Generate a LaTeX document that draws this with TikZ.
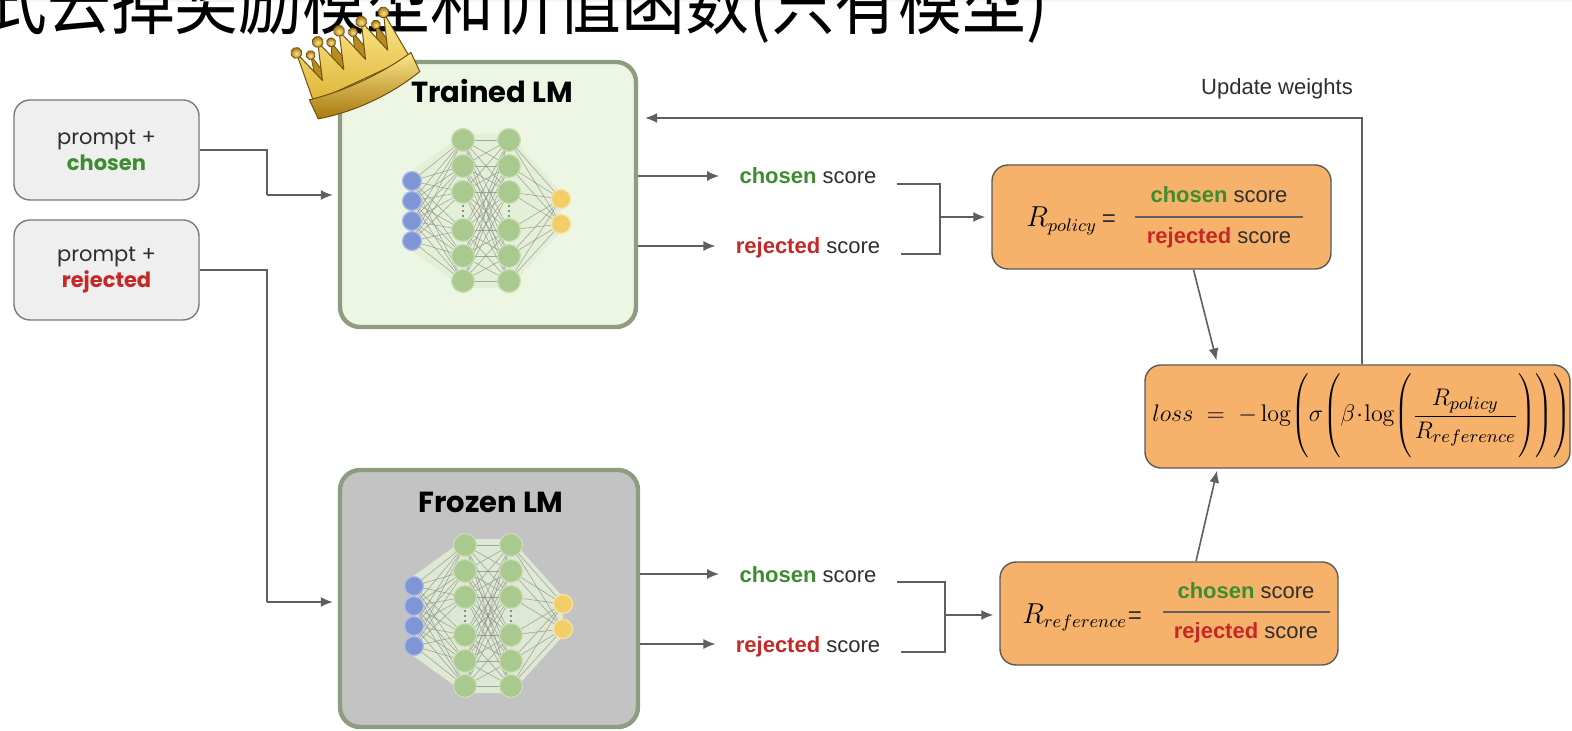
\documentclass[tikz,border=0pt]{standalone}
\usepackage[no-math]{fontspec}
\setmainfont{Liberation Sans}
\newfontfamily\gsans{Poppins}
\newfontfamily\cjk[FakeStretch=0.84]{Noto Sans CJK SC}
\usetikzlibrary{arrows.meta,calc}

\definecolor{linegray}{HTML}{5F5F5F}
\definecolor{txtgray}{HTML}{2E2E2E}
\definecolor{okgreen}{HTML}{3C8D2F}
\definecolor{badred}{HTML}{C62828}
\definecolor{promptfill}{HTML}{EFEFEF}
\definecolor{promptdraw}{HTML}{7A7A7A}
\definecolor{lmborder}{HTML}{8E9C82}
\definecolor{trainfill}{HTML}{EDF5E3}
\definecolor{frozenfill}{HTML}{C3C3C3}
\definecolor{orangefill}{HTML}{F6B26B}
\definecolor{orangedraw}{HTML}{5A5A5A}
\definecolor{netbgc}{HTML}{E3EFD7}
\definecolor{bluen}{HTML}{7F96D6}
\definecolor{bluer}{HTML}{AEBDE8}
\definecolor{greenn}{HTML}{A9C98E}
\definecolor{greenr}{HTML}{CADFB6}
\definecolor{yellown}{HTML}{F2CD68}
\definecolor{yellowr}{HTML}{F8E3A6}
\definecolor{edgec}{HTML}{8A8F86}
\definecolor{stripc}{HTML}{EEF7F9}
\definecolor{goldhi}{HTML}{FBE68A}
\definecolor{goldmid}{HTML}{E0B53A}
\definecolor{goldlo}{HTML}{A8780F}
\definecolor{goldback}{HTML}{B98A1E}
\definecolor{goldline}{HTML}{6E500A}

\tikzset{
  conn/.style={draw=linegray, line width=0.8pt},
  arr/.style={conn, -{Latex[length=6pt,width=5pt]}},
  promptbox/.style={draw=promptdraw, fill=promptfill, rounded corners=8pt, line width=0.7pt,
    minimum width=92.5pt, minimum height=50pt, align=center, text=txtgray,
    font=\gsans\fontsize{10.5}{13}\selectfont},
  lmbox/.style={draw=lmborder, line width=2.2pt, rounded corners=10pt},
  lmtitle/.style={anchor=base, font=\gsans\bfseries\fontsize{14.5}{16}\selectfont, text=black},
  score/.style={anchor=base, inner xsep=10pt, inner ysep=0pt, text=txtgray, font=\fontsize{11}{13}\selectfont},
  orangebox/.style={draw=orangedraw, fill=orangefill, rounded corners=8pt, line width=0.7pt},
  fracpart/.style={text=txtgray, font=\fontsize{11}{13}\selectfont},
  netedge/.style={draw=edgec, line width=0.3pt, opacity=0.75},
  bluenode/.style={fill=bluen, draw=bluer, line width=0.6pt},
  greennode/.style={fill=greenn, draw=greenr, line width=0.6pt},
  yellownode/.style={fill=yellown, draw=yellowr, line width=0.6pt},
  goldball/.style={inner color=goldhi, outer color=goldlo, draw=goldline, line width=0.4pt},
}

\newcommand\chosenscore{{\bfseries\color{okgreen}chosen} score}
\newcommand\rejectedscore{{\bfseries\color{badred}rejected} score}
\newcommand\bigstrut{\vphantom{\rule[-19.5pt]{0pt}{45pt}}}

% a small feed-forward network: 4 inputs, two hidden layers of 6, 2 outputs
\newcommand\lmnet[2]{%
  \begin{scope}[shift={(#1,#2)}]
    \fill[netbgc, opacity=0.85] (410,172) -- (463,134) -- (509,134) -- (561,192)
      -- (561,231) -- (509,288) -- (463,288) -- (410,250) -- cycle;
    \foreach \a in {181,201,221,241}{\foreach \b in {140,166,192,230,256,281}{\draw[netedge] (412,\a) -- (463,\b);}}
    \foreach \a in {140,166,192,230,256,281}{\foreach \b in {140,166,192,230,256,281}{\draw[netedge] (463,\a) -- (509,\b);}}
    \foreach \a in {140,166,192,230,256,281}{\foreach \b in {199,224}{\draw[netedge] (509,\a) -- (561,\b);}}
    \foreach \y in {181,201,221,241}{\draw[bluenode] (412,\y) circle[radius=9.5];}
    \foreach \y in {140,166,192,230,256,281}{\draw[greennode] (463,\y) circle[radius=11.5];
      \draw[greennode] (509,\y) circle[radius=11.5];}
    \foreach \y in {199,224}{\draw[yellownode] (561,\y) circle[radius=9.5];}
    \foreach \x in {463,509}{\draw[draw=edgec, line width=0.8pt, dash pattern=on 1.2pt off 1.2pt] (\x,205) -- (\x,217);}
  \end{scope}}

\begin{document}
\begin{tikzpicture}[x=0.5pt, y=-0.5pt]
\useasboundingbox (0,0) rectangle (1572,731);
\clip (0,0) rectangle (1572,731);
\fill[white] (0,0) rectangle (1572,731);
\fill[stripc] (0,0) rectangle (1572,2.5);

% heading, cut off by the top edge
\node[anchor=base west, inner sep=0pt, text=black, font=\cjk\fontsize{38}{40}\selectfont] (heading) at (-17,29)
  {式去掉奖励模型和价值函数(只有模型)};

% inputs
\node[promptbox] (pc) at (106.5,150) {prompt +\\{\bfseries\color{okgreen}chosen}};
\node[promptbox] (pr) at (106.5,270) {prompt +\\{\bfseries\color{badred}rejected}};

% language models
\node[lmbox, fill=trainfill, minimum width=148pt, minimum height=132.5pt] (tr) at (488,194.5) {};
\node[lmbox, fill=frozenfill, minimum width=149pt, minimum height=128.5pt] (fr) at (489,598.5) {};
\lmnet{0}{0}
\lmnet{2}{405}
\node[lmtitle] (trt) at (492,103) {Trained LM};
\node[lmtitle] (frt) at (491,512) {Frozen LM};

% crown on the trained model
\begin{scope}[shift={(361,78)}, rotate=25]
  % spikes at the back
  \path[fill=goldback, draw=goldline, line width=0.4pt, line join=round]
    (-46,0) -- (-36,-42) -- (-28,-6) -- (-12,-45) -- (-2,-6) -- (12,-45) -- (22,-6)
    -- (36,-42) -- (46,0) -- cycle;
  \foreach \p in {(-36,-42),(-12,-45),(12,-45),(36,-42)}{\path[goldball] \p circle[radius=4.5];}
  % front spikes
  \path[top color=goldhi, bottom color=goldmid, draw=goldline, line width=0.5pt, line join=round]
    (-53,2) -- (-48,-50) -- (-36,-14) -- (-24,-51) -- (-12,-15) -- (0,-52) -- (12,-15)
    -- (24,-51) -- (36,-14) -- (48,-50) -- (53,2) -- cycle;
  \foreach \p in {(-48,-50),(-24,-51),(0,-52),(24,-51),(48,-50)}{\path[goldball] \p circle[radius=5.5];}
  % brim
  \path[top color=goldhi, bottom color=goldlo, draw=goldline, line width=0.5pt]
    (-56,-2) .. controls (-20,5) and (20,5) .. (56,-2) -- (56,19)
    .. controls (20,28) and (-20,28) .. (-56,19) -- cycle;
\end{scope}

% inputs into both models
\coordinate (sp1) at (267,195);
\coordinate (sp2) at (267,602);
\draw[conn] (pc.east) -| (sp1);
\draw[conn] (pr.east) -| (sp2);
\draw[arr, shorten >=2.5pt] (sp1) -- (sp1 -| tr.west);
\draw[arr, shorten >=2.5pt] (sp2) -- (sp2 -| fr.west);

% scores
\node[score] (cs1) at (808,184) {\chosenscore};
\node[score] (rs1) at (808,254) {\rejectedscore};
\node[score] (cs2) at (808,582) {\chosenscore};
\node[score] (rs2) at (808,652) {\rejectedscore};
\draw[arr] ([yshift=4pt]cs1.base west -| tr.east) -- ([yshift=4pt]cs1.base west);
\draw[arr] ([yshift=4pt]rs1.base west -| tr.east) -- ([yshift=4pt]rs1.base west);
\draw[arr] ([yshift=4pt]cs2.base west -| fr.east) -- ([yshift=4pt]cs2.base west);
\draw[arr] ([yshift=4pt]rs2.base west -| fr.east) -- ([yshift=4pt]rs2.base west);

% policy ratio
\node[orangebox, minimum width=169.5pt, minimum height=52pt] (rp) at (1161.5,217) {};
\node[anchor=base west, inner sep=0pt, font=\fontsize{13.5}{15}\selectfont] (rpl) at (1026,227) {$R_{policy}$};
\node[anchor=base west, inner sep=0pt, text=txtgray, font=\fontsize{12}{14}\selectfont] (rpe) at (rpl.base east) {\,=};
\node[fracpart] (rpn) at (1219,195) {\chosenscore};
\node[fracpart] (rpd) at (1219,238) {\rejectedscore};
\draw[draw=linegray, line width=0.6pt] (1135,217) -- (1303,217);

% reference ratio
\node[orangebox, minimum width=169pt, minimum height=51.5pt] (rr) at (1169,613.5) {};
\node[anchor=base west, inner sep=0pt, font=\fontsize{13.5}{15}\selectfont] (rrl) at (1022,623) {$R_{reference}$};
\node[anchor=base west, inner sep=0pt, text=txtgray, font=\fontsize{12}{14}\selectfont] (rre) at (rrl.base east) {=};
\node[fracpart] (rrn) at (1246,591) {\chosenscore};
\node[fracpart] (rrd) at (1246,633) {\rejectedscore};
\draw[draw=linegray, line width=0.6pt] (1163,612) -- (1330,612);

% brackets joining the scores
\coordinate (j1) at (940,217);
\coordinate (j2) at (945,615);
\draw[conn] (cs1.base east) -| (j1) |- (rs1.base east);
\draw[conn] (cs2.base east) -| (j2) |- (rs2.base east);
\draw[arr, shorten >=3pt] (j1) -- (j1 -| rp.west);
\draw[arr, shorten >=3pt] (j2) -- (j2 -| rr.west);

% loss
\node[orangebox, minimum width=212.5pt, minimum height=51.5pt] (loss) at (1357.5,416.5) {};
\node[anchor=west, inner sep=0pt, font=\fontsize{13}{15}\selectfont] (lf) at (1152,416)
  {$\displaystyle loss\;=\;-\log\!\left(\bigstrut\sigma\!\left(\bigstrut\beta\!\cdot\!\log\!\left(\bigstrut\frac{R_{policy}}{R_{reference}}\right)\right)\right)$};
\draw[arr, shorten >=2pt] ([xshift=16pt]rp.south) -- ([xshift=-70pt]loss.north);
\draw[arr, shorten >=1pt] ([xshift=13.5pt]rr.north) -- ([xshift=-70pt]loss.south);

% weight update loop
\coordinate (uw) at (1362,118);
\draw[arr, shorten >=3.5pt] (uw |- loss.north) -- (uw) -- (uw -| tr.east);
\node[anchor=base, inner sep=0pt, text=txtgray, font=\fontsize{11}{13}\selectfont] (uwl) at (1277,95) {Update weights};
\end{tikzpicture}
\end{document}
